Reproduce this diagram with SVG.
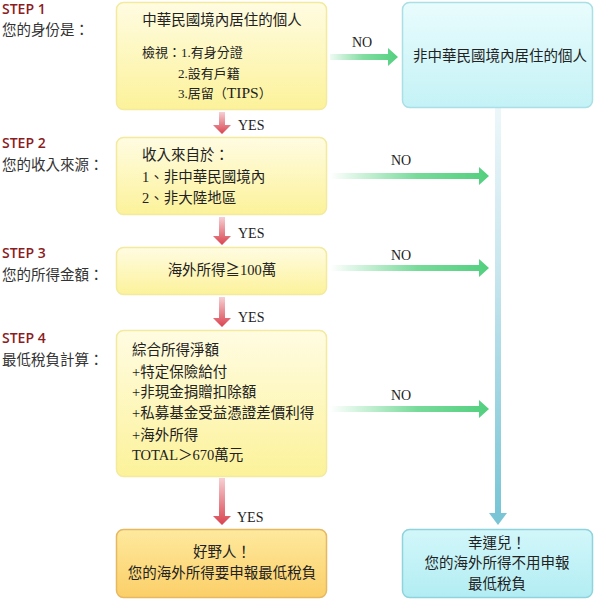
<svg xmlns="http://www.w3.org/2000/svg" width="597" height="600" viewBox="0 0 597 600">
<defs>
<linearGradient id="gYellow" x1="0" y1="0" x2="0" y2="1"><stop offset="0" stop-color="#fffce2"/><stop offset="1" stop-color="#fcf29a"/></linearGradient>
<linearGradient id="gOrange" x1="0" y1="0" x2="0" y2="1"><stop offset="0" stop-color="#fee99e"/><stop offset="1" stop-color="#fbcf68"/></linearGradient>
<linearGradient id="gCyan" x1="0" y1="0" x2="0" y2="1"><stop offset="0" stop-color="#e9fcfd"/><stop offset="1" stop-color="#c4f2f6"/></linearGradient>
<linearGradient id="gCyan2" x1="0" y1="0" x2="0" y2="1"><stop offset="0" stop-color="#d2f7fa"/><stop offset="1" stop-color="#b2edf3"/></linearGradient>
<linearGradient id="gGreen" x1="0" y1="0" x2="1" y2="0"><stop offset="0" stop-color="#5fd488" stop-opacity="0"/><stop offset="0.55" stop-color="#5fd488" stop-opacity="0.85"/><stop offset="1" stop-color="#52cf7e"/></linearGradient>
<linearGradient id="gGreenS" x1="0" y1="0" x2="1" y2="0"><stop offset="0" stop-color="#5fd488" stop-opacity="0.1"/><stop offset="0.5" stop-color="#5fd488" stop-opacity="0.8"/><stop offset="1" stop-color="#52cf7e"/></linearGradient>
<linearGradient id="gRed" x1="0" y1="0" x2="0" y2="1"><stop offset="0" stop-color="#f6d0d3"/><stop offset="1" stop-color="#d9434f"/></linearGradient>
<linearGradient id="gBlue" x1="0" y1="0" x2="0" y2="1"><stop offset="0" stop-color="#edf7fa"/><stop offset="0.4" stop-color="#c8e6ee"/><stop offset="1" stop-color="#78c5d6"/></linearGradient>
<style>
.box{stroke-width:1.5}
.yb{fill:url(#gYellow);stroke:#f3ea9e}
.ob{fill:url(#gOrange);stroke:#e6b860}
.cb{fill:url(#gCyan);stroke:#a9dfe5}
.cb2{fill:url(#gCyan2);stroke:#8fd3dd}
.t{font-family:"Liberation Serif","Noto Sans CJK TC",serif;font-size:14.5px;fill:#222}
.ts{font-family:"Liberation Serif","Noto Sans CJK TC",serif;font-size:13px;fill:#222}
.cjk{font-family:"Noto Sans CJK TC",sans-serif;font-size:14.5px;fill:#333}
.step{font-family:"Open Sans","DejaVu Sans",sans-serif;font-weight:600;font-size:14px;fill:#8b1c22}
.lbl{font-family:"Liberation Serif",serif;font-size:14px;fill:#222}
.mid{text-anchor:middle}
</style>
</defs>
<rect width="597" height="600" fill="#ffffff"/>

<g id="labels">
<text class="step" x="2" y="14">STEP 1</text>
<text class="cjk" x="2" y="35">您的身份是：</text>
<text class="step" x="2" y="148">STEP 2</text>
<text class="cjk" x="2" y="170">您的收入來源：</text>
<text class="step" x="2" y="258">STEP 3</text>
<text class="cjk" x="2" y="280">您的所得金額：</text>
<text class="step" x="2" y="343">STEP 4</text>
<text class="cjk" x="2" y="365">最低稅負計算：</text>
</g>

<g id="connectors">
<rect x="495" y="107" width="6" height="407" fill="url(#gBlue)"/>
<polygon points="489,513 507,513 498,525" fill="#7ac5d5"/>
<path d="M219,112 h6 v13 h6 l-9,9 l-9,-9 h6 z" fill="url(#gRed)"/>
<path d="M219,217 h6 v19 h6 l-9,9 l-9,-9 h6 z" fill="url(#gRed)"/>
<path d="M219,297 h6 v21 h6 l-9,9 l-9,-9 h6 z" fill="url(#gRed)"/>
<path d="M219,478 h6 v38 h6 l-9,9 l-9,-9 h6 z" fill="url(#gRed)"/>
<path d="M330,54 h58 v-6 l10,9 l-10,9 v-6 h-58 z" fill="url(#gGreenS)"/>
<path d="M330,173 h149 v-6 l10,9 l-10,9 v-6 h-149 z" fill="url(#gGreen)"/>
<path d="M330,265 h149 v-6 l10,9 l-10,9 v-6 h-149 z" fill="url(#gGreen)"/>
<path d="M330,406 h149 v-6 l10,9 l-10,9 v-6 h-149 z" fill="url(#gGreen)"/>
<text class="lbl" x="238" y="130">YES</text>
<text class="lbl" x="238" y="238">YES</text>
<text class="lbl" x="238" y="322">YES</text>
<text class="lbl" x="237" y="522">YES</text>
<text class="lbl" x="352" y="47">NO</text>
<text class="lbl" x="391" y="165">NO</text>
<text class="lbl" x="391" y="260">NO</text>
<text class="lbl" x="391" y="400">NO</text>
</g>

<g id="step1">
<rect class="box yb" x="116.5" y="2.5" width="210" height="107" rx="7"/>
<text class="t mid" x="222" y="25">中華民國境內居住的個人</text>
<text class="ts" x="142" y="57">檢視：1.有身分證</text>
<text class="ts" x="178" y="78">2.設有戶籍</text>
<text class="ts" x="178" y="98">3.居留（<tspan style="font-size:15.5px">TIPS</tspan>）</text>
</g>

<g id="nonResident">
<rect class="box cb" x="402.5" y="2.5" width="190" height="105" rx="7"/>
<text class="cjk mid" x="500" y="61" style="fill:#222">非中華民國境內居住的個人</text>
</g>

<g id="step2">
<rect class="box yb" x="116.5" y="137.5" width="210" height="77" rx="7"/>
<text class="t" x="142" y="160">收入來自於：</text>
<text class="t" x="142" y="182">1、非中華民國境內</text>
<text class="t" x="142" y="203">2、非大陸地區</text>
</g>

<g id="step3">
<rect class="box yb" x="116.5" y="247.5" width="210" height="47" rx="7"/>
<text class="t mid" x="222" y="275">海外所得≧100萬</text>
</g>

<g id="step4">
<rect class="box yb" x="116.5" y="330.5" width="210" height="146" rx="7"/>
<text class="t" x="132" y="355">綜合所得淨額</text>
<text class="t" x="132" y="377">+特定保險給付</text>
<text class="t" x="132" y="397">+非現金捐贈扣除額</text>
<text class="t" x="132" y="418">+私募基金受益憑證差價利得</text>
<text class="t" x="132" y="440">+海外所得</text>
<text class="t" x="132" y="460">TOTAL＞670萬元</text>
</g>

<g id="mustReport">
<rect class="box ob" x="116.5" y="529.5" width="210" height="68" rx="7"/>
<text class="t mid" x="222" y="557">好野人！</text>
<text class="t mid" x="222" y="578">您的海外所得要申報最低稅負</text>
</g>

<g id="noReport">
<rect class="box cb2" x="402.5" y="529.5" width="190" height="68" rx="7"/>
<text class="t mid" x="497" y="548">幸運兒！</text>
<text class="t mid" x="497" y="568">您的海外所得不用申報</text>
<text class="t mid" x="497" y="589">最低稅負</text>
</g>
</svg>
